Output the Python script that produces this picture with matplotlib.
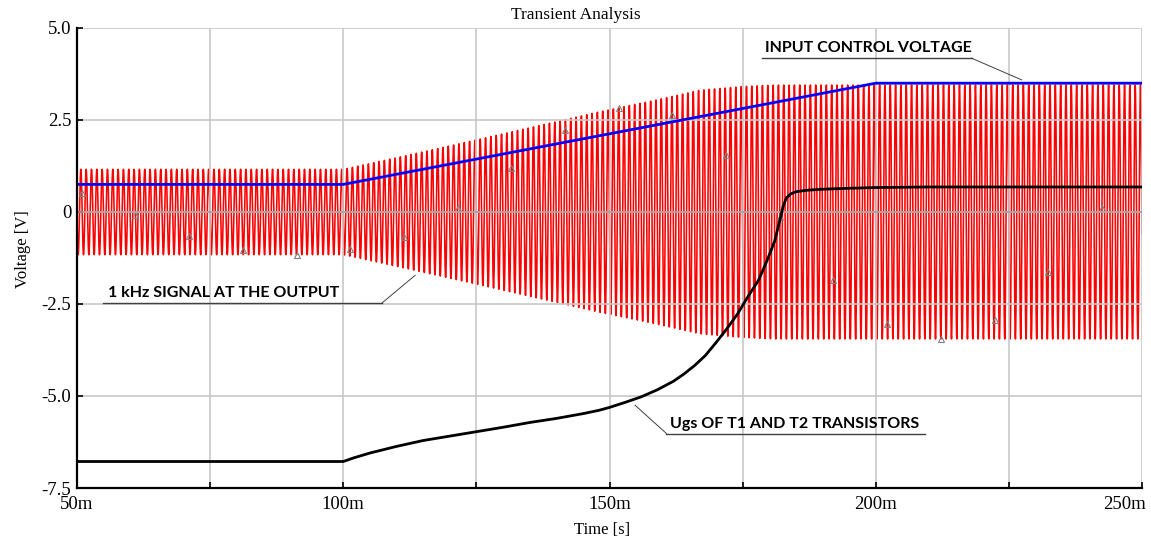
import numpy as np
import matplotlib
matplotlib.use("Agg")
import matplotlib.pyplot as plt
from matplotlib.transforms import ScaledTranslation

# time in ms, voltages in V
ctrl_t = [50, 100, 200, 250]
ctrl_v = [0.75, 0.75, 3.5, 3.5]

ugs_t = [50, 100, 102, 105, 110, 115, 120, 125, 130, 135, 140, 145, 148, 150,
         153, 156, 159, 162, 164, 166, 168, 170, 172, 174, 176, 178, 179.5,
         181, 182, 182.6, 183.2, 184, 185, 187, 190, 195, 200, 210, 250]
ugs_v = [-6.78, -6.78, -6.68, -6.55, -6.37, -6.21, -6.09, -5.97, -5.85, -5.72,
         -5.61, -5.48, -5.39, -5.31, -5.17, -5.02, -4.83, -4.60, -4.40, -4.17,
         -3.90, -3.55, -3.18, -2.78, -2.30, -1.85, -1.35, -0.80, -0.22, 0.15,
         0.38, 0.49, 0.55, 0.59, 0.62, 0.645, 0.665, 0.68, 0.68]

# envelope of the 1 kHz output signal
env_t = [50, 100, 112, 125, 148, 158, 167, 175, 181, 250]
env_a = [1.16, 1.16, 1.54, 1.96, 2.72, 3.02, 3.31, 3.41, 3.45, 3.45]
sig_freq_khz = 1.0
sig_phase_deg = 190

# probe markers on the output trace
mark_t0 = 50.9
mark_step = 10.083

xticks = [50, 100, 150, 200, 250]
xlabels = ["50m", "100m", "150m", "200m", "250m"]
yticks = [5.0, 2.5, 0, -2.5, -5.0, -7.5]
ylabels = ["5.0", "2.5", "0", "-2.5", "-5.0", "-7.5"]

serif = "Liberation Serif"
bold_sans = "Lato"

fig = plt.figure(figsize=(11.51, 5.39), dpi=100)
ax = fig.add_axes([77 / 1151, 1 - 488 / 539, 1065 / 1151, 460 / 539])

def signal(t):
    a = np.interp(t, env_t, env_a)
    return a * np.sin(2 * np.pi * sig_freq_khz * t + np.radians(sig_phase_deg))

t = np.arange(50, 250.0001, 0.02)
ax.plot(t, signal(t), color="#ff0000", lw=1.15, zorder=1)
tm = np.arange(mark_t0, 250, mark_step)
ax.plot(tm, signal(tm), ls="none", marker="^", ms=4, mfc="none",
        mec="#808080", mew=0.8, zorder=1.5)

ax.plot(ctrl_t, ctrl_v, color="#0000ff", lw=2, zorder=3)
ax.plot(ugs_t, ugs_v, color="black", lw=2, zorder=3)

ax.set_xlim(50, 250)
ax.set_ylim(-7.5, 5.0)
ax.set_xticks(xticks)
ax.set_xticklabels(xlabels)
ax.set_xticks([75, 125, 175, 225], minor=True)
ax.set_yticks(yticks)
ax.set_yticklabels(ylabels)

ax.set_axisbelow(False)
ax.grid(True, which="both", color="#c8c8c8", lw=1.2)
ax.axhline(0, color="#a0a0a0", lw=1.2, zorder=2.6)
for g in ax.get_xgridlines() + ax.get_ygridlines():
    g.set_zorder(2.5)

for s in ["top", "right"]:
    ax.spines[s].set_visible(False)
for s in ["left", "bottom"]:
    ax.spines[s].set_linewidth(1.6)
    ax.spines[s].set_zorder(4)

ax.tick_params(which="both", direction="in", length=4, width=1.2,
               labelsize=13.5, pad=4)
ax.tick_params(axis="x", pad=6)
for lab in ax.get_xticklabels() + ax.get_yticklabels():
    lab.set_family(serif)
last = ax.get_xticklabels()[-1]
last.set_transform(last.get_transform() + ScaledTranslation(-17 / 100, 0, fig.dpi_scale_trans))

ax.set_xlabel("Time [s]", family=serif, fontsize=12)
ax.set_ylabel("Voltage [V]", family=serif, fontsize=12)
ax.xaxis.set_label_coords(0.493, -0.075)
ax.yaxis.set_label_coords(-0.043, 0.52)
fig.text(0.5, 1 - 15 / 539, "Transient Analysis", family=serif, fontsize=12.5,
         ha="center", va="center")

# callout labels: (text, text x, underline y, underline x0, x1, leader start, leader end)
callouts = [
    ("INPUT CONTROL VOLTAGE", 179.2, 4.18, 178.7, 218.0, (218.0, 4.18), (227.4, 3.59)),
    ("1 kHz SIGNAL AT THE OUTPUT", 55.8, -2.47, 54.8, 107.3, (107.3, -2.47), (113.5, -1.72)),
    ("Ugs OF T1 AND T2 TRANSISTORS", 161.4, -6.02, 160.7, 209.2, (160.7, -6.02), (154.8, -5.25)),
]
for txt, tx, uy, ux0, ux1, p0, p1 in callouts:
    ax.text(tx, uy + 0.08, txt, family=bold_sans, fontweight="bold",
            fontsize=11.5, ha="left", va="bottom", zorder=5)
    ax.plot([ux0, ux1], [uy, uy], color="#404040", lw=1, zorder=5)
    ax.plot([p0[0], p1[0]], [p0[1], p1[1]], color="#404040", lw=0.7, zorder=5)

fig.savefig("out.png", dpi=100)
